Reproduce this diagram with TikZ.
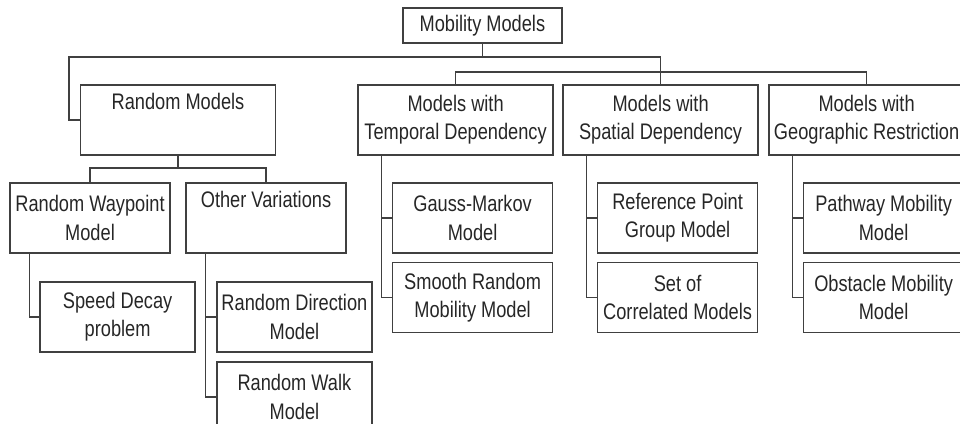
\documentclass[tikz,border=0pt]{standalone}
\usepackage{fontspec}
\setmainfont{Liberation Sans}[FakeStretch=0.81]
\usetikzlibrary{positioning}

\begin{document}
\begin{tikzpicture}[thick,line width=1pt,
  main node/.style={rectangle,draw=black!75,text=black!85,align=center,
    font=\fontsize{16}{20}\selectfont,inner sep=2pt,
    minimum height=1.75cm,minimum width=4.875cm},
  sub node/.style={main node,minimum width=4cm},
  leaf node/.style={main node,minimum width=3.875cm},
  link/.style={draw=black!75}]

  \clip (0,0) rectangle (24,-10.6);

  \node[main node,minimum height=0.875cm,minimum width=3.975cm] (ROOT) at (12.06,-0.64) {Mobility Models};
  \node[main node] (RAND) at (4.45,-3) {Random Models\\\strut};
  \node[main node] (TEMP) [node distance=6.94cm, right of=RAND] {Models with\\Temporal Dependency};
  \node[main node] (SPAT) [node distance=5.125cm, right of=TEMP] {Models with\\Spatial Dependency};
  \node[main node] (GEO) [node distance=5.15cm, right of=SPAT] {Models with\\Geographic Restriction};

  \node[sub node] (RWP) [node distance=2.45cm, below of=RAND, xshift=-2.2cm] {Random Waypoint\\Model};
  \node[sub node] (OTHER) [node distance=4.4cm, right of=RWP] {Other Variations\\\strut};
  \node[leaf node] (SPEED) [node distance=2.475cm, below of=RWP, xshift=0.69cm] {Speed Decay\\problem};
  \node[leaf node] (RDIR) [node distance=2.475cm, below of=OTHER, xshift=0.71cm] {Random Direction\\Model};
  \node[leaf node] (RWALK) [node distance=2cm, below of=RDIR] {Random Walk\\Model};

  \node[sub node] (GAUSS) [node distance=2.45cm, below of=TEMP, xshift=0.425cm] {Gauss-Markov\\Model};
  \node[sub node] (SMOOTH) [node distance=1.99cm, below of=GAUSS] {Smooth Random\\Mobility Model};
  \node[sub node] (REFPT) [node distance=2.45cm, below of=SPAT, xshift=0.425cm] {Reference Point\\Group Model};
  \node[sub node] (CORR) [node distance=1.99cm, below of=REFPT] {Set of\\Correlated Models};
  \node[sub node] (PATH) [node distance=2.45cm, below of=GEO, xshift=0.425cm] {Pathway Mobility\\Model};
  \node[sub node] (OBST) [node distance=1.99cm, below of=PATH] {Obstacle Mobility\\Model};

  % bus lines
  \coordinate (BUSA) at (0,-1.425);
  \coordinate (BUSB) at (0,-1.8);
  \coordinate (BUSC) at (0,-4.2);

  \draw[link] (ROOT.south) -- (ROOT.south |- BUSA);
  \draw[link] (RAND.west) -- ++(-0.275,0) |- (SPAT.north |- BUSA) -- (SPAT.north);
  \draw[link] (TEMP.north) -- (TEMP.north |- BUSB) -| (GEO.north);
  \draw[link] (RAND.south) -- (RAND.south |- BUSC);
  \draw[link] (RWP.north) -- (RWP.north |- BUSC) -| (OTHER.north);

  % children
  \draw[link] ([xshift=0.5cm]RWP.south west) |- (SPEED.west);
  \draw[link] ([xshift=0.5cm]OTHER.south west) |- (RDIR.west);
  \draw[link] ([xshift=0.5cm]OTHER.south west) |- (RWALK.west);
  \draw[link] ([xshift=0.6cm]TEMP.south west) |- (GAUSS.west);
  \draw[link] ([xshift=0.6cm]TEMP.south west) |- (SMOOTH.west);
  \draw[link] ([xshift=0.6cm]SPAT.south west) |- (REFPT.west);
  \draw[link] ([xshift=0.6cm]SPAT.south west) |- (CORR.west);
  \draw[link] ([xshift=0.6cm]GEO.south west) |- (PATH.west);
  \draw[link] ([xshift=0.6cm]GEO.south west) |- (OBST.west);
\end{tikzpicture}
\end{document}
